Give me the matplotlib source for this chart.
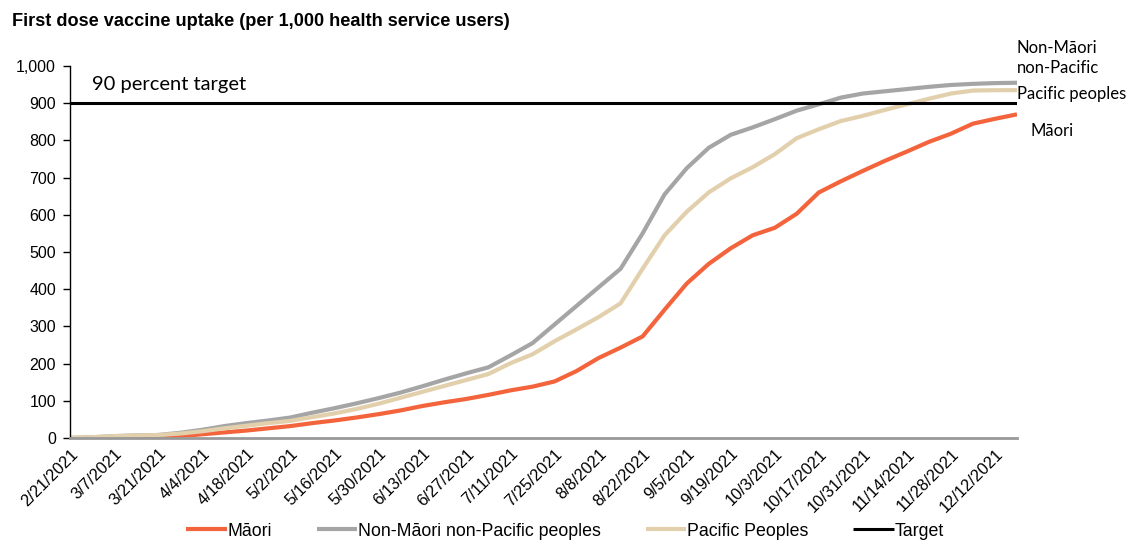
import numpy as np
import pandas as pd
import matplotlib
matplotlib.use("Agg")
import matplotlib.pyplot as plt

# weekly dates, 2/21/2021 to 12/19/2021
dates = pd.date_range("2021-02-21", periods=44, freq="7D")
date_labels = [f"{d.month}/{d.day}/{d.year}" for d in dates]

# first dose uptake per 1,000 health service users
maori = [0, 0, 0, 0, 2, 5, 10, 15, 20, 26,
         32, 40, 47, 55, 64, 74, 86, 96, 105, 116,
         128, 138, 152, 180, 215, 243, 273, 345, 415, 468,
         510, 545, 565, 603, 660, 690, 718, 745, 770, 796,
         818, 845, 858, 870]
non_maori_non_pacific = [0, 2, 5, 7, 8, 14, 22, 32, 40, 47,
                         55, 68, 80, 93, 107, 122, 139, 157, 174, 190,
                         222, 255, 305, 355, 405, 455, 550, 655, 725, 780,
                         815, 835, 857, 880, 897, 915, 926, 932, 938, 944,
                         949, 952, 954, 955]
pacific = [0, 2, 5, 7, 8, 12, 18, 26, 33, 40,
           46, 56, 66, 78, 92, 108, 124, 140, 156, 172,
           201, 225, 260, 292, 325, 362, 455, 545, 608, 660,
           698, 728, 763, 806, 830, 852, 866, 882, 897, 912,
           926, 934, 935, 935]
target = [900] * len(dates)

c_maori = "#f4643c"
c_nonmp = "#a5a5a5"
c_pac = "#e2cfac"

plt.rcParams['font.family'] = ['Liberation Sans', 'DejaVu Sans']

fig = plt.figure(figsize=(11.32, 5.46), dpi=100)
ax = fig.add_axes([70 / 1132, 108 / 546, 947 / 1132, 372 / 546])

x = np.arange(len(dates))
ax.plot(x, maori, color=c_maori, lw=3, label="Māori", solid_capstyle="butt")
ax.plot(x, non_maori_non_pacific, color=c_nonmp, lw=3,
        label="Non-Māori non-Pacific peoples", solid_capstyle="butt")
ax.plot(x, pacific, color=c_pac, lw=3, label="Pacific Peoples", solid_capstyle="butt")
ax.plot(x, target, color="black", lw=2.2, label="Target", solid_capstyle="butt")

ax.set_xlim(0, len(dates) - 1)
ax.set_ylim(0, 1000)
ax.set_yticks(range(0, 1001, 100))
ax.set_yticklabels([f"{v:,}" for v in range(0, 1001, 100)], fontsize=11.5)
ax.set_xticks(x[::2])
ax.set_xticklabels(date_labels[::2], rotation=45, ha="right",
                   rotation_mode="anchor", fontsize=11.8)
ax.tick_params(axis="x", length=0, pad=6)
ax.tick_params(axis="y", length=5, width=1, direction="out", pad=5)

for s in ["top", "right"]:
    ax.spines[s].set_visible(False)
ax.spines["left"].set_color("black")
ax.spines["left"].set_linewidth(1)
ax.spines["bottom"].set_color("#999999")
ax.spines["bottom"].set_linewidth(2)

# annotations
lab_font = ['Lato', 'DejaVu Sans']
ax.text(1, 950, "90 percent target", fontsize=14.5, family=lab_font,
        va="center", ha="left")
ax.text(43, 1069, "Non-Māori\nnon-Pacific", fontsize=12, family=lab_font,
        va="top", ha="left", clip_on=False, linespacing=1.3)
ax.text(43, 925, "Pacific peoples", fontsize=12, family=lab_font,
        va="center", ha="left", clip_on=False)
ax.text(43.6, 825, "Māori", fontsize=12, family=lab_font,
        va="center", ha="left", clip_on=False)

fig.text(12 / 1132, 1 - 21 / 546, "First dose vaccine uptake (per 1,000 health service users)",
         fontsize=13.1, fontweight="bold", va="center", ha="left")

fig.legend(loc="center", bbox_to_anchor=(565 / 1132, 15 / 546), ncol=4,
           frameon=False, fontsize=12.8, handlelength=2.3, handletextpad=0.05,
           columnspacing=2.5)

fig.savefig("out.png", dpi=100)
